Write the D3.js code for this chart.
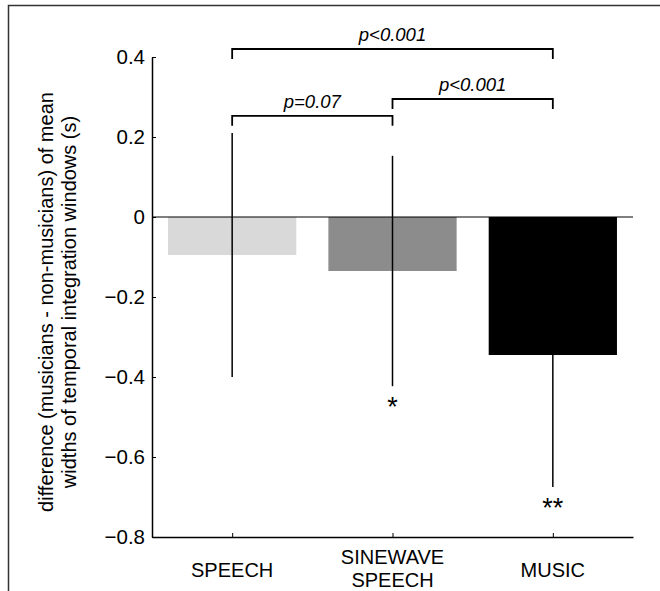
<!DOCTYPE html>
<html>
<head>
<meta charset="utf-8">
<script src="https://cdn.jsdelivr.net/npm/d3@7"></script>
<style>
  body { margin: 0; background: #fff; }
  text { font-family: "Liberation Sans", Arial, sans-serif; fill: #000; }
</style>
</head>
<body>
<div id="chart"></div>
<script>
// values
var categories = [["SPEECH"], ["SINEWAVE", "SPEECH"], ["MUSIC"]];
var means = [-0.095, -0.135, -0.345];
var errs = [0.305, 0.288, 0.33];
var barColors = ["#d9d9d9", "#8c8c8c", "#000000"];
var stars = ["", "*", "**"];
var yTicks = [0.4, 0.2, 0, -0.2, -0.4, -0.6, -0.8];
// comparisons: [from, to, bracket level (value), label]
var brackets = [
    [0, 2, 0.42, "p<0.001"],
    [0, 1, 0.253, "p=0.07"],
    [1, 2, 0.295, "p<0.001"]
];

var width = 660, height = 591;
var margin = { top: 57, right: 27, bottom: 54, left: 152 };

var svg = d3.select("#chart").append("svg")
    .attr("width", width)
    .attr("height", height);

// outer frame (only top and left visible)
svg.append("path")
    .attr("d", "M8.5,591V5.5H660")
    .attr("fill", "none")
    .attr("stroke", "#333")
    .attr("stroke-width", 1.5);

var x = d3.scaleLinear()
    .domain([0.5, 3.5])
    .range([margin.left, width - margin.right]);

var y = d3.scaleLinear()
    .domain([-0.8, 0.4])
    .range([height - margin.bottom, margin.top]);

var barW = x(1.4) - x(0.6);

// bars
svg.selectAll(".bar")
    .data(means)
    .enter().append("rect")
    .attr("class", "bar")
    .attr("x", function(d, i) { return x(i + 1) - barW / 2; })
    .attr("y", function(d) { return y(Math.max(0, d)); })
    .attr("width", barW)
    .attr("height", function(d) { return Math.abs(y(d) - y(0)); })
    .attr("fill", function(d, i) { return barColors[i]; });

// zero line
svg.append("line")
    .attr("x1", x(0.5)).attr("x2", x(3.5))
    .attr("y1", y(0)).attr("y2", y(0))
    .attr("stroke", "#000").attr("stroke-width", 1.2);

// error lines
svg.selectAll(".err")
    .data(means)
    .enter().append("line")
    .attr("class", "err")
    .attr("x1", function(d, i) { return x(i + 1); })
    .attr("x2", function(d, i) { return x(i + 1); })
    .attr("y1", function(d, i) { return y(d + errs[i]); })
    .attr("y2", function(d, i) { return y(d - errs[i]); })
    .attr("stroke", "#000")
    .attr("stroke-width", 1.5);

// significance stars
svg.selectAll(".star")
    .data(means)
    .enter().append("text")
    .attr("class", "star")
    .attr("x", function(d, i) { return x(i + 1); })
    .attr("y", function(d, i) { return y(d - errs[i]) + 30; })
    .attr("text-anchor", "middle")
    .style("font-size", "27px")
    .text(function(d, i) { return stars[i]; });

// axes
var yAxis = svg.append("g")
    .attr("transform", "translate(" + margin.left + ",0)")
    .call(d3.axisLeft(y).tickValues(yTicks).tickSizeInner(-4).tickSizeOuter(0)
        .tickPadding(7)
        .tickFormat(function(d) { return d === 0 ? "0" : d3.format(".1f")(d).replace("-", "\u2212"); }));
yAxis.selectAll("text").style("font-size", "20.5px").attr("font-family", null);

var xAxis = svg.append("g")
    .attr("transform", "translate(0," + (height - margin.bottom) + ")")
    .call(d3.axisBottom(x).tickValues([1, 2, 3]).tickSizeInner(-4).tickSizeOuter(0)
        .tickFormat(""));

svg.selectAll(".domain").attr("stroke-width", 1.5);
svg.selectAll(".tick line").attr("stroke-width", 1);

// category labels
categories.forEach(function(lines, i) {
    var t = svg.append("text")
        .attr("x", x(i + 1))
        .attr("y", lines.length > 1 ? 564 : 577)
        .attr("text-anchor", "middle")
        .style("font-size", "20px");
    lines.forEach(function(s, j) {
        t.append("tspan")
            .attr("x", x(i + 1))
            .attr("dy", j === 0 ? 0 : 23)
            .text(s);
    });
});

// y title
var yt = svg.append("text")
    .attr("transform", "translate(53,302) rotate(-90)")
    .attr("text-anchor", "middle")
    .style("font-size", "20px");
yt.append("tspan").attr("x", 0).attr("dy", 0)
    .text("difference (musicians - non-musicians) of mean");
yt.append("tspan").attr("x", 0).attr("dy", 23)
    .text("widths of temporal integration windows (s)");

// comparison brackets
brackets.forEach(function(b) {
    var x1 = x(b[0] + 1), x2 = x(b[1] + 1), yb = y(b[2]);
    svg.append("path")
        .attr("d", "M" + x1 + "," + (yb + 10) + "V" + yb + "H" + x2 + "V" + (yb + 10))
        .attr("fill", "none")
        .attr("stroke", "#000")
        .attr("stroke-width", 1.8);
    svg.append("text")
        .attr("x", (x1 + x2) / 2)
        .attr("y", yb - 8)
        .attr("text-anchor", "middle")
        .style("font-size", "18.5px")
        .style("font-style", "italic")
        .text(b[3]);
});
</script>
</body>
</html>
